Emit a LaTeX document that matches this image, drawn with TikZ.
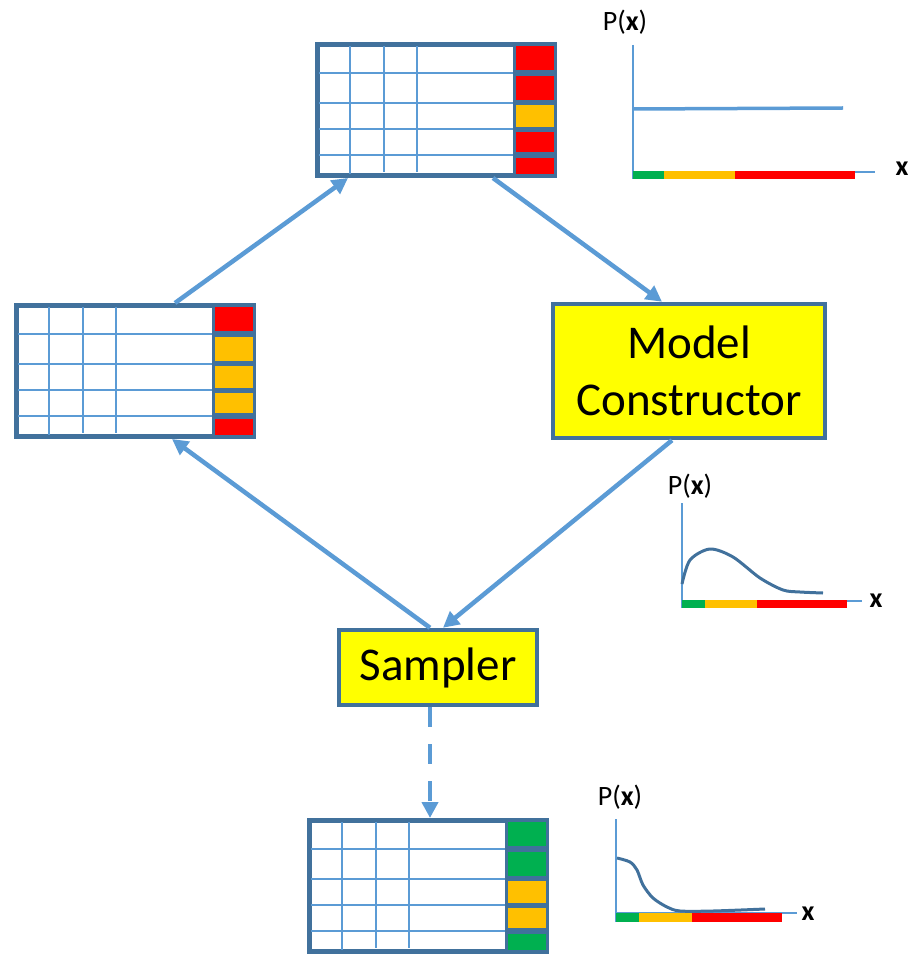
\documentclass[tikz,border=0pt]{standalone}
\usepackage{fontspec}
\setmainfont{Carlito}
\usetikzlibrary{shapes,arrows.meta}

\definecolor{linkblue}{HTML}{5B9BD5}
\definecolor{tableblue}{HTML}{41719C}
\definecolor{boxyellow}{HTML}{FFFF00}
\definecolor{lowred}{HTML}{FF0000}
\definecolor{midamber}{HTML}{FFC000}
\definecolor{highgreen}{HTML}{00B050}

\tikzstyle{datatable} = [rectangle, minimum width=237pt, minimum height=131pt, draw=tableblue, line width=5pt, fill=white]
\tikzstyle{process} = [rectangle, draw=tableblue, line width=4.5pt, fill=boxyellow, align=center, font=\fontsize{47}{57}\selectfont]
\tikzstyle{gridline} = [linkblue, line width=1.8pt]
\tikzstyle{arrow} = [linkblue, line width=4.5pt, -{Triangle[length=16pt,width=16pt]}]
\tikzstyle{dasharrow} = [arrow, dash pattern=on 20pt off 17pt]
\tikzstyle{axis} = [linkblue, line width=1.5pt]
\tikzstyle{curve} = [tableblue, line width=3pt]
\tikzstyle{axislabel} = [inner sep=0pt, font=\fontsize{28}{31}\selectfont]

% grid lines and the coloured label column of a table node
\newcommand{\tablecells}[6]{%
  \begin{scope}[shift={(#1.north west)}]
    \draw [gridline] (4,31) -- (198,31);
    \draw [gridline] (4,61) -- (198,61);
    \draw [gridline] (4,87) -- (198,87);
    \draw [gridline] (4,113) -- (198,113);
    \draw [gridline] (35,4) -- (35,132);
    \draw [gridline] (69,4) -- (69,130);
    \draw [gridline] (102,4) -- (102,130);
    \fill [tableblue] (198,0) rectangle (242,136);
    \fill [#2] (201,4) rectangle (239,28);
    \fill [#3] (201,34) rectangle (239,58);
    \fill [#4] (201,63) rectangle (239,85);
    \fill [#5] (201,90) rectangle (239,110);
    \fill [#6] (201,116) rectangle (239,132);
  \end{scope}}

\begin{document}
\begin{tikzpicture}[x=1pt, y=-1pt]
\useasboundingbox (0,0) rectangle (910,957);

\node (ttab) [datatable] at (436,110) {};
\node (ltab) [datatable] at (135,371) {};
\node (btab) [datatable] at (428,886) {};
\node (model) [process, minimum width=272pt, minimum height=134pt] at (689,371) {Model\\Constructor};
\node (sampler) [process, minimum width=198pt, minimum height=75pt] at (438,667.5) {Sampler};

\tablecells{ttab}{lowred}{lowred}{midamber}{lowred}{lowred}
\tablecells{ltab}{lowred}{midamber}{midamber}{midamber}{lowred}
\tablecells{btab}{highgreen}{highgreen}{midamber}{midamber}{highgreen}

\draw [arrow] ([xshift=40pt]ltab.north) -- ([xshift=-88pt]ttab.south);
\draw [arrow] ([xshift=57pt]ttab.south) -- ([xshift=-27pt]model.north);
\draw [arrow] ([xshift=-17pt]model.south) -- ([xshift=5pt]sampler.north);
\draw [arrow] ([xshift=-8pt]sampler.north) -- ([xshift=37pt]ltab.south);
\draw [dasharrow] ([xshift=-8pt]sampler.south) -- ([xshift=2pt]btab.north);

% flat distribution
\node (pxtop) [axislabel] at (625,22) {P(\textbf{x})};
\node (xtop) [axislabel] at (902,169) {\textbf{x}};
\draw [axis] (633,45) -- (633,179);
\draw [axis] (633,172) -- (875,172);
\fill [highgreen] (633,171) rectangle (664,179);
\fill [midamber] (664,171) rectangle (735,179);
\fill [lowred] (735,171) rectangle (855,179);
\draw [linkblue, line width=3.5pt] (633,109) -- (843,108);

% model distribution
\node (pxmid) [axislabel] at (690,486) {P(\textbf{x})};
\node (xmid) [axislabel] at (876,601) {\textbf{x}};
\draw [axis] (682,503) -- (682,608);
\draw [axis] (682,601) -- (862,601);
\fill [highgreen] (682,600) rectangle (705,608);
\fill [midamber] (705,600) rectangle (757,608);
\fill [lowred] (757,600) rectangle (847,608);
\draw [curve] plot [smooth] coordinates {(682,584) (690,560) (710,549) (733,557) (760,578) (783,590) (800,592) (823,593)};

% sampled distribution
\node (pxbot) [axislabel] at (620,797) {P(\textbf{x})};
\node (xbot) [axislabel] at (808,914) {\textbf{x}};
\draw [axis] (616,819) -- (616,922);
\draw [axis] (616,913) -- (797,913);
\fill [highgreen] (616,913) rectangle (639,922);
\fill [midamber] (639,913) rectangle (692,922);
\fill [lowred] (692,913) rectangle (782,922);
\draw [curve] plot [smooth] coordinates {(617,858) (630,862) (637,870) (643,885) (653,898) (667,907) (680,911) (713,911) (765,909)};

\end{tikzpicture}
\end{document}
